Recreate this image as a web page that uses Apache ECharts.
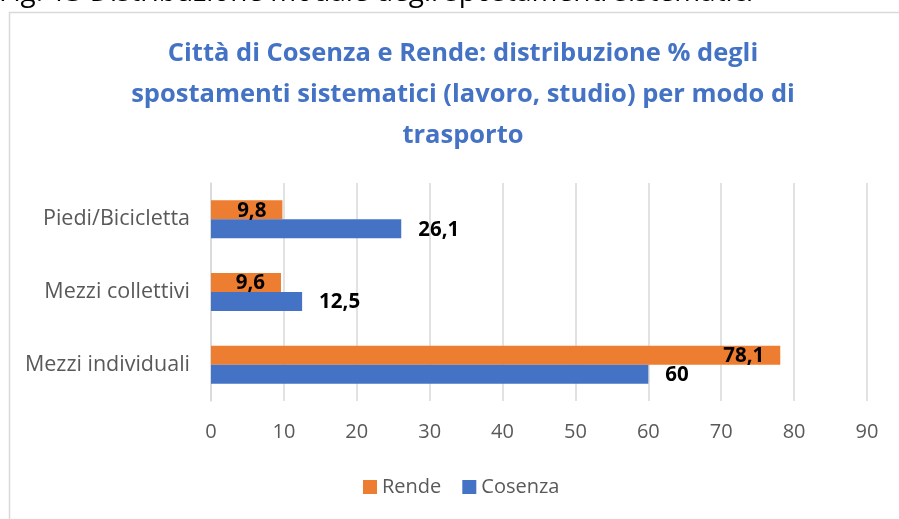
<!DOCTYPE html>
<html>
<head>
<meta charset="utf-8">
<script src="https://cdn.jsdelivr.net/npm/echarts@6/dist/echarts.min.js"></script>
<style>
  html, body { margin: 0; padding: 0; background: #fff; }
  #chart { width: 899px; height: 519px; }
</style>
</head>
<body>
<div id="chart"></div>
<script>
// categories, bottom to top as drawn on the y axis
const categories = ['Mezzi individuali', 'Mezzi collettivi', 'Piedi/Bicicletta']
const cosenza = [60, 12.5, 26.1]
const rende = [78.1, 9.6, 9.8]
const xTicks = [0, 90, 10] // min, max, step

const FONT = '"Open Sans", sans-serif'
const fmt = (p) => String(p.value).replace('.', ',')

const chart = echarts.init(document.getElementById('chart'))
const option = {
  animation: false,
  backgroundColor: '#fff',
  textStyle: { fontFamily: FONT },
  graphic: [
    {
      type: 'rect',
      shape: { x: 9.5, y: 12.5, width: 900, height: 520 },
      style: { fill: 'none', stroke: '#d9d9d9', lineWidth: 1.5 }
    },
    {
      type: 'text',
      left: -1,
      top: -21,
      style: {
        text: 'Fig. 13 Distribuzione modale degli spostamenti sistematici',
        font: '28px ' + FONT,
        fill: '#000'
      }
    }
  ],
  title: {
    text: 'Città di Cosenza e Rende: distribuzione % degli\nspostamenti sistematici (lavoro, studio) per modo di\ntrasporto',
    left: 458,
    top: 28,
    textAlign: 'center',
    textStyle: {
      color: '#4472C4',
      fontSize: 25.5,
      fontWeight: 'bold',
      lineHeight: 41,
      fontFamily: FONT
    }
  },
  legend: {
    data: ['Rende', 'Cosenza'],
    left: 358,
    top: 472,
    itemWidth: 14,
    itemHeight: 14,
    itemGap: 21,
    icon: 'rect',
    textStyle: { color: '#595959', fontSize: 20, fontFamily: FONT }
  },
  grid: { left: 211, right: 32, top: 183, bottom: 118 },
  xAxis: {
    type: 'value',
    min: xTicks[0],
    max: xTicks[1],
    interval: xTicks[2],
    axisLine: { show: false },
    axisTick: { show: false },
    splitLine: { lineStyle: { color: '#d9d9d9', width: 1.5 } },
    axisLabel: { color: '#595959', fontSize: 20, margin: 21, fontFamily: FONT }
  },
  yAxis: {
    type: 'category',
    data: categories,
    axisLine: { show: true, lineStyle: { color: '#d9d9d9', width: 1.5 } },
    axisTick: { show: false },
    axisLabel: { color: '#595959', fontSize: 21.5, margin: 21, fontFamily: FONT }
  },
  series: [
    {
      name: 'Rende',
      type: 'bar',
      data: rende,
      barWidth: 19,
      barGap: '0%',
      itemStyle: { color: '#ED7D31' },
      label: {
        show: true,
        position: 'insideRight',
        distance: 16,
        offset: [0, 1],
        formatter: fmt,
        color: '#000',
        fontWeight: 'bold',
        fontSize: 20.5,
        fontFamily: FONT
      }
    },
    {
      name: 'Cosenza',
      type: 'bar',
      data: cosenza,
      barWidth: 19,
      barGap: '0%',
      itemStyle: { color: '#4472C4' },
      label: {
        show: true,
        position: 'right',
        distance: 17,
        offset: [0, 1],
        formatter: fmt,
        color: '#000',
        fontWeight: 'bold',
        fontSize: 20.5,
        fontFamily: FONT
      }
    }
  ]
}
chart.setOption(option)
</script>
</body>
</html>
